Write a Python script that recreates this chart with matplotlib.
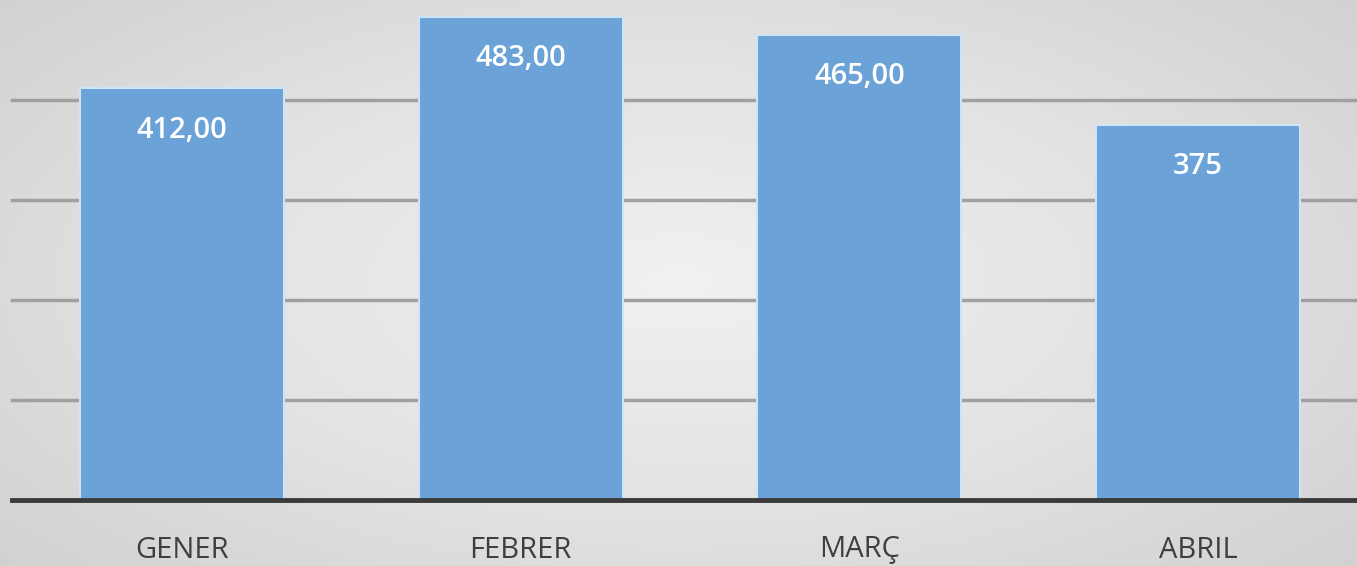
import numpy as np
import matplotlib.pyplot as plt
from matplotlib.colors import LinearSegmentedColormap

months = ['GENER', 'FEBRER', 'MARÇ', 'ABRIL']
values = [412, 483, 465, 375]
value_labels = ['412,00', '483,00', '465,00', '375']
grid_levels = [100, 200, 300, 400]

bar_color = '#6ba3d8'
edge_color = '#cfe3f6'

fig = plt.figure(figsize=(13.57, 5.66), dpi=100)

# radial grey background
bg = fig.add_axes([0, 0, 1, 1])
yy, xx = np.mgrid[-1:1:300j, -1:1:600j]
r = np.sqrt(xx ** 2 + (yy * 0.9) ** 2)
cmap = LinearSegmentedColormap.from_list('bg', ['#f1f1f1', '#e3e3e3', '#d0d0d0'])
bg.imshow(r, cmap=cmap, aspect='auto', extent=[0, 1, 0, 1], vmin=0, vmax=1.4)
bg.axis('off')

ax = fig.add_axes([0, 66 / 566, 1, 500 / 566])
ax.patch.set_alpha(0)
x = np.arange(len(months))
for g in grid_levels:
    ax.axhline(g, xmin=12 / 1357, xmax=1, color='#a0a0a0', lw=2.5, zorder=1)
ax.bar(x, values, width=0.602, color=bar_color, edgecolor=edge_color, linewidth=1.5, zorder=2)
ax.axhline(0, xmin=12 / 1357, xmax=1, color='#3b3b3b', lw=3.5, zorder=3, clip_on=False)

for xi, v, lab in zip(x, values, value_labels):
    ax.text(xi, v - 42, lab, ha='center', va='center', color='white',
            fontsize=21, family='Open Sans', fontweight='semibold', zorder=4)
for xi, m in zip(x, months):
    ax.text(xi, -50, m, ha='center', va='center', color='#3f3f3f',
            fontsize=21, family='Open Sans', clip_on=False)

ax.set_xlim(-0.537, 3.469)
ax.set_ylim(0, 500)
ax.axis('off')

fig.savefig('out.png', dpi=100)
